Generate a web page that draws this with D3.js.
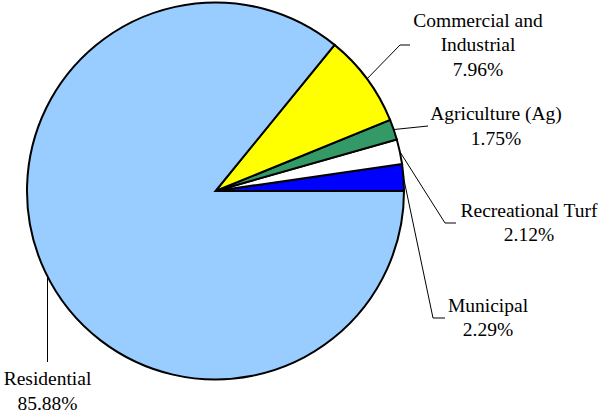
<!DOCTYPE html>
<html>
<head>
<meta charset="utf-8">
<script src="https://cdn.jsdelivr.net/npm/d3@7"></script>
<style>
  html, body { margin: 0; padding: 0; background: #fff; }
  svg { display: block; }
  text { font-family: "Liberation Serif", "Times New Roman", serif; font-size: 19.5px; fill: #000; }
</style>
</head>
<body>
<svg id="chart" width="604" height="418"></svg>
<script>
// Water use by sector, in percent (counter-clockwise from 3 o'clock)
const categories = ["Municipal", "Recreational Turf", "Agriculture (Ag)", "Commercial and Industrial", "Residential"];
const values = [2.29, 2.12, 1.75, 7.96, 85.88];
const colors = ["#0000FF", "#FFFFFF", "#339966", "#FFFF00", "#99CCFF"];
const labelLines = [["Municipal"], ["Recreational Turf"], ["Agriculture (Ag)"], ["Commercial and", "Industrial"], ["Residential"]];

// Label placement: text anchor (center x, first baseline y) and leader-line bends
const labelLayout = [
  { x: 488, y: 311.5, bend: [[433, 318], [445, 318]] },
  { x: 529, y: 216.5, bend: [[445, 223], [456, 223]] },
  { x: 496, y: 120,   bend: [[428, 126]] },
  { x: 478, y: 26.5,  bend: [[400, 45], [410, 45]] },
  { x: 47.5, y: 385,  bend: [[47.5, 362]] }
];
const lineGap = 24.8;

const cx = 215.5, cy = 191, r = 188.5;
const svg = d3.select("#chart");
const g = svg.append("g").attr("transform", `translate(${cx},${cy})`);

const pie = d3.pie()
  .sort(null)
  .value(d => d)
  .startAngle(Math.PI / 2)
  .endAngle(Math.PI / 2 - 2 * Math.PI);

const arcs = pie(values);
const arc = d3.arc().innerRadius(0).outerRadius(r);

g.selectAll("path.slice")
  .data(arcs)
  .join("path")
  .attr("class", "slice")
  .attr("d", arc)
  .attr("fill", (d, i) => colors[i])
  .attr("stroke", "#000")
  .attr("stroke-width", 2)
  .attr("stroke-linejoin", "miter");

// Leader lines from the middle of each slice's rim
const line = d3.line();
arcs.forEach((a, i) => {
  const mid = (a.startAngle + a.endAngle) / 2;
  const sx = cx + r * Math.sin(mid);
  const sy = cy - r * Math.cos(mid);
  const L = labelLayout[i];
  let pts = [[sx, sy]].concat(L.bend);
  if (i === 4) {
    // Residential leader drops vertically from the rim
    const dx = L.bend[0][0] - cx;
    const yy = cy + Math.sqrt(r * r - dx * dx);
    pts = [[L.bend[0][0], yy], L.bend[0]];
  }
  svg.append("path")
    .attr("d", line(pts))
    .attr("fill", "none")
    .attr("stroke", "#000")
    .attr("stroke-width", 1);
});

// Category names and percentages
const fmt = d3.format(".2f");
labelLines.forEach((lines, i) => {
  const L = labelLayout[i];
  const t = svg.append("text")
    .attr("text-anchor", "middle")
    .attr("x", L.x)
    .attr("y", L.y);
  const all = lines.concat([fmt(values[i]) + "%"]);
  all.forEach((s, k) => {
    t.append("tspan")
      .attr("x", L.x)
      .attr("dy", k === 0 ? 0 : lineGap)
      .text(s);
  });
});
</script>
</body>
</html>
